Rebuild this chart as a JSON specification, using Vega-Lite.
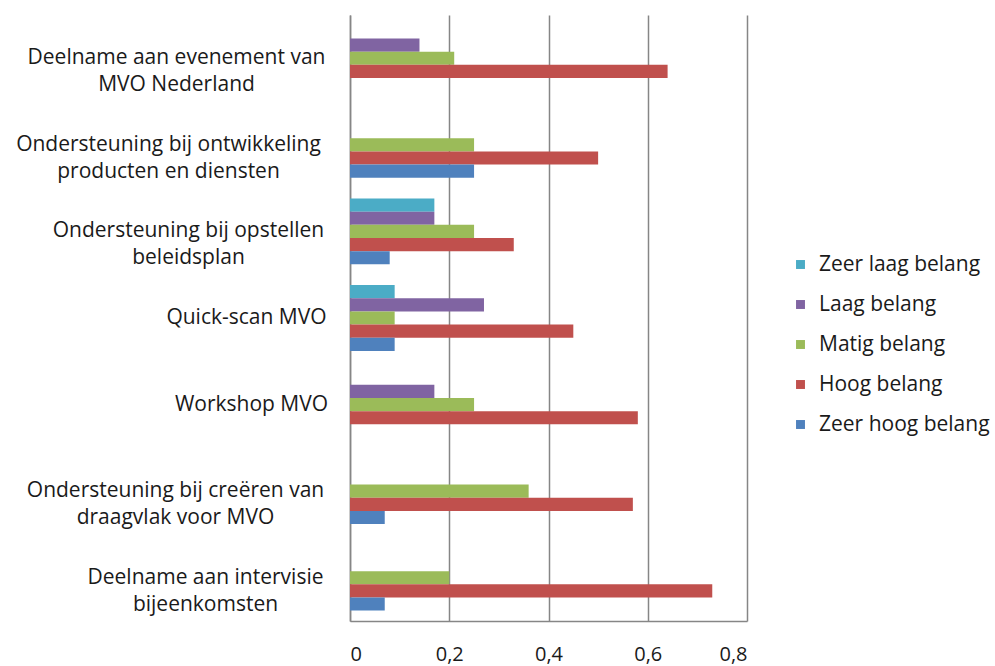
{
  "$schema": "https://vega.github.io/schema/vega-lite/v6.json",
  "width": 397,
  "height": 606,
  "autosize": "none",
  "padding": {"left": 350, "top": 15, "right": 248, "bottom": 45},
  "background": "white",
  "config": {"view": {"stroke": null}, "font": "Open Sans"},
  "data": {
    "values": [
      {"cat": "Deelname aan evenement van|MVO Nederland", "series": "Zeer laag belang", "value": 0},
      {"cat": "Deelname aan evenement van|MVO Nederland", "series": "Laag belang", "value": 0.14},
      {"cat": "Deelname aan evenement van|MVO Nederland", "series": "Matig belang", "value": 0.21},
      {"cat": "Deelname aan evenement van|MVO Nederland", "series": "Hoog belang", "value": 0.64},
      {"cat": "Deelname aan evenement van|MVO Nederland", "series": "Zeer hoog belang", "value": 0},
      {"cat": "Ondersteuning bij ontwikkeling|producten en diensten", "series": "Zeer laag belang", "value": 0},
      {"cat": "Ondersteuning bij ontwikkeling|producten en diensten", "series": "Laag belang", "value": 0},
      {"cat": "Ondersteuning bij ontwikkeling|producten en diensten", "series": "Matig belang", "value": 0.25},
      {"cat": "Ondersteuning bij ontwikkeling|producten en diensten", "series": "Hoog belang", "value": 0.5},
      {"cat": "Ondersteuning bij ontwikkeling|producten en diensten", "series": "Zeer hoog belang", "value": 0.25},
      {"cat": "Ondersteuning bij opstellen|beleidsplan", "series": "Zeer laag belang", "value": 0.17},
      {"cat": "Ondersteuning bij opstellen|beleidsplan", "series": "Laag belang", "value": 0.17},
      {"cat": "Ondersteuning bij opstellen|beleidsplan", "series": "Matig belang", "value": 0.25},
      {"cat": "Ondersteuning bij opstellen|beleidsplan", "series": "Hoog belang", "value": 0.33},
      {"cat": "Ondersteuning bij opstellen|beleidsplan", "series": "Zeer hoog belang", "value": 0.08},
      {"cat": "Quick-scan MVO", "series": "Zeer laag belang", "value": 0.09},
      {"cat": "Quick-scan MVO", "series": "Laag belang", "value": 0.27},
      {"cat": "Quick-scan MVO", "series": "Matig belang", "value": 0.09},
      {"cat": "Quick-scan MVO", "series": "Hoog belang", "value": 0.45},
      {"cat": "Quick-scan MVO", "series": "Zeer hoog belang", "value": 0.09},
      {"cat": "Workshop MVO", "series": "Zeer laag belang", "value": 0},
      {"cat": "Workshop MVO", "series": "Laag belang", "value": 0.17},
      {"cat": "Workshop MVO", "series": "Matig belang", "value": 0.25},
      {"cat": "Workshop MVO", "series": "Hoog belang", "value": 0.58},
      {"cat": "Workshop MVO", "series": "Zeer hoog belang", "value": 0},
      {"cat": "Ondersteuning bij creëren van|draagvlak voor MVO", "series": "Zeer laag belang", "value": 0},
      {"cat": "Ondersteuning bij creëren van|draagvlak voor MVO", "series": "Laag belang", "value": 0},
      {"cat": "Ondersteuning bij creëren van|draagvlak voor MVO", "series": "Matig belang", "value": 0.36},
      {"cat": "Ondersteuning bij creëren van|draagvlak voor MVO", "series": "Hoog belang", "value": 0.57},
      {"cat": "Ondersteuning bij creëren van|draagvlak voor MVO", "series": "Zeer hoog belang", "value": 0.07},
      {"cat": "Deelname aan intervisie|bijeenkomsten", "series": "Zeer laag belang", "value": 0},
      {"cat": "Deelname aan intervisie|bijeenkomsten", "series": "Laag belang", "value": 0},
      {"cat": "Deelname aan intervisie|bijeenkomsten", "series": "Matig belang", "value": 0.2},
      {"cat": "Deelname aan intervisie|bijeenkomsten", "series": "Hoog belang", "value": 0.73},
      {"cat": "Deelname aan intervisie|bijeenkomsten", "series": "Zeer hoog belang", "value": 0.07}
    ]
  },
  "mark": {"type": "bar"},
  "encoding": {
    "y": {
      "field": "cat",
      "type": "nominal",
      "sort": [
        "Deelname aan evenement van|MVO Nederland",
        "Ondersteuning bij ontwikkeling|producten en diensten",
        "Ondersteuning bij opstellen|beleidsplan",
        "Quick-scan MVO",
        "Workshop MVO",
        "Ondersteuning bij creëren van|draagvlak voor MVO",
        "Deelname aan intervisie|bijeenkomsten"
      ],
      "scale": {"paddingInner": 0.24, "paddingOuter": 0.12},
      "axis": {
        "title": null,
        "labelExpr": "split(datum.label, '|')",
        "ticks": false,
        "domainColor": "#868686",
        "domainWidth": 1.5,
        "labelAlign": "center",
        "labelBaseline": "middle",
        "labelPadding": {
          "condition": [
            {"test": "indexof(datum.value, 'evenement') >= 0", "value": 174},
            {"test": "indexof(datum.value, 'ontwikkeling') >= 0", "value": 182},
            {"test": "indexof(datum.value, 'opstellen') >= 0", "value": 162},
            {"test": "indexof(datum.value, 'Quick') >= 0", "value": 104},
            {"test": "indexof(datum.value, 'Workshop') >= 0", "value": 99},
            {"test": "indexof(datum.value, 'creëren') >= 0", "value": 175}
          ],
          "value": 145
        },
        "labelFontSize": 21,
        "labelColor": "#1a1a1a",
        "labelLineHeight": 27,
        "labelLimit": 400
      }
    },
    "yOffset": {
      "field": "series",
      "type": "nominal",
      "sort": ["Zeer laag belang", "Laag belang", "Matig belang", "Hoog belang", "Zeer hoog belang"]
    },
    "x": {
      "field": "value",
      "type": "quantitative",
      "scale": {"domain": [0, 0.8]},
      "axis": {
        "title": null,
        "values": [0, 0.2, 0.4, 0.6, 0.8],
        "labelExpr": "replace(format(datum.value, '.1~f'), '.', ',')",
        "ticks": false,
        "grid": true,
        "gridColor": "#868686",
        "gridWidth": 1.5,
        "domainColor": "#868686",
        "domainWidth": 1.5,
        "labelPadding": 23,
        "labelFontSize": 20,
        "labelColor": "#1a1a1a"
      }
    },
    "color": {
      "field": "series",
      "type": "nominal",
      "scale": {
        "domain": ["Zeer laag belang", "Laag belang", "Matig belang", "Hoog belang", "Zeer hoog belang"],
        "range": ["#4bacc6", "#8064a2", "#9bbb59", "#c0504d", "#4f81bd"]
      },
      "legend": {
        "title": null,
        "orient": "none",
        "legendX": 440,
        "legendY": 239,
        "symbolType": "square",
        "symbolSize": 80,
        "labelFontSize": 21,
        "labelColor": "#1a1a1a",
        "labelOffset": 8,
        "rowPadding": 18,
        "labelLimit": 300
      }
    }
  }
}
